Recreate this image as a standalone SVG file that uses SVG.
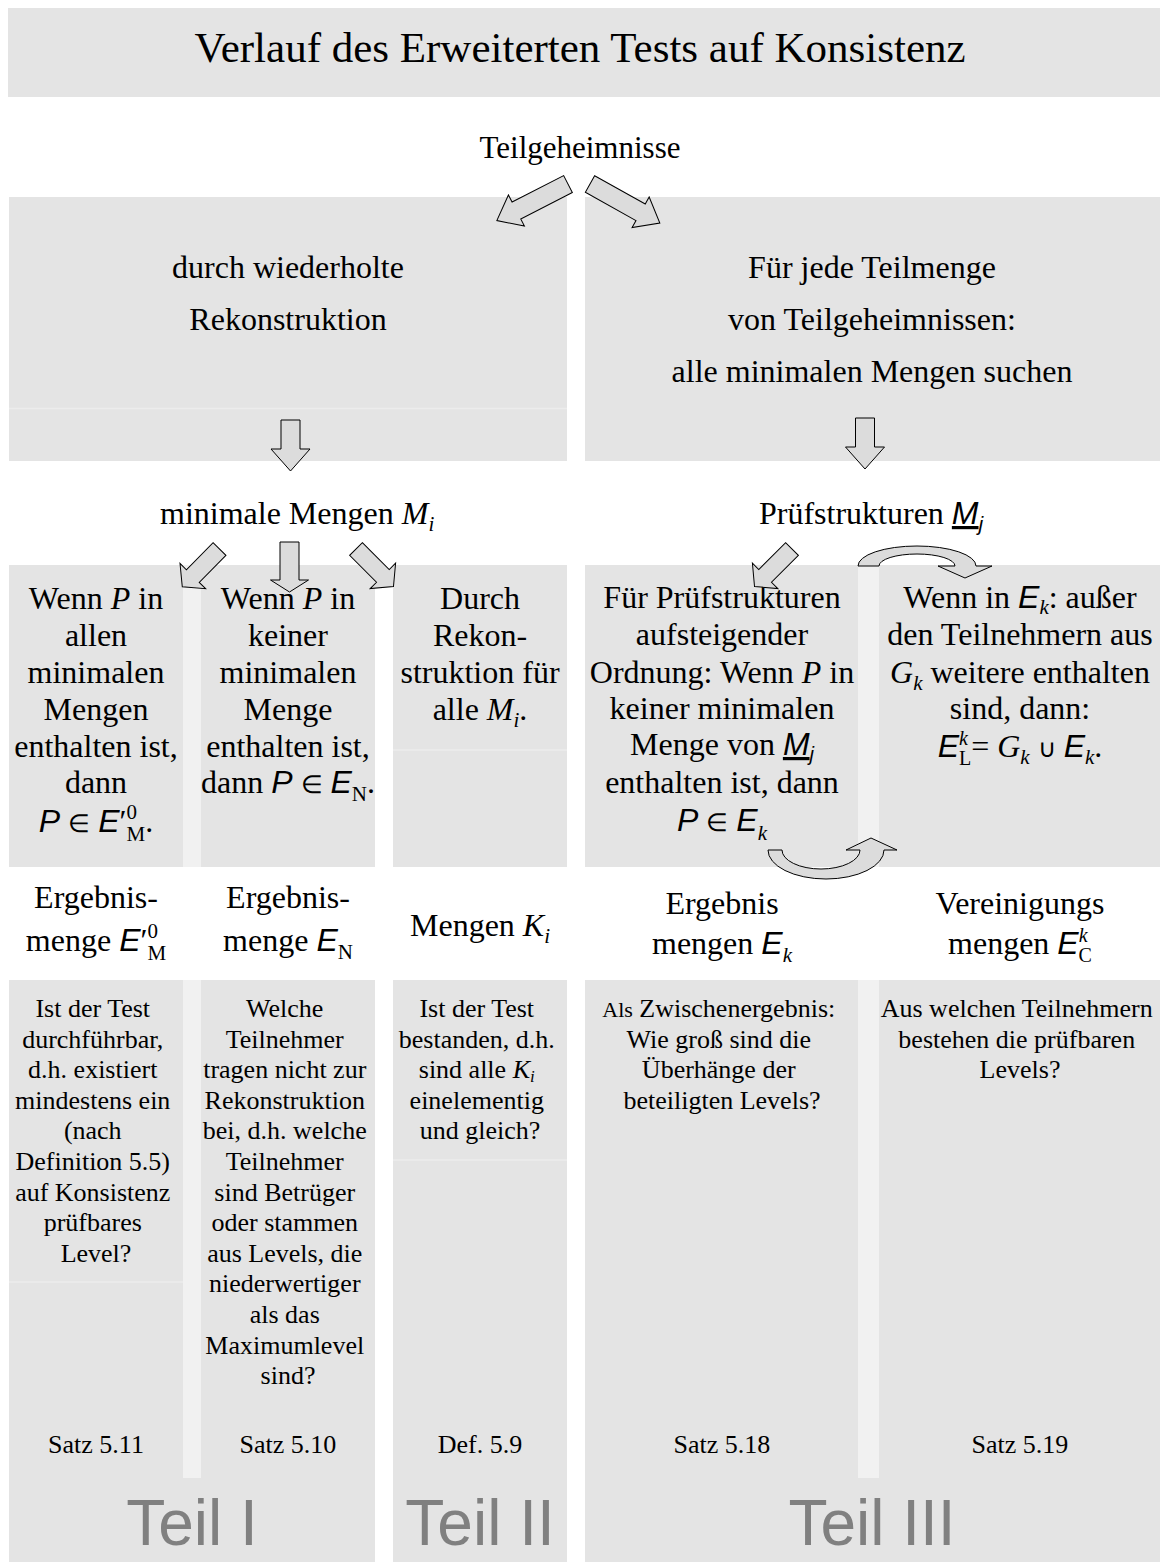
<svg xmlns="http://www.w3.org/2000/svg" width="1160" height="1562" viewBox="0 0 1160 1562">
<style>
  .box{fill:#e4e4e4}
  .strip{fill:#f1f1f1}
  .seam{stroke:#ececec;stroke-width:1.5;fill:none}
  text{font-family:"Liberation Serif","Times New Roman",serif;fill:#000}
  .c{text-anchor:middle}
  .f32{font-size:32px}
  .f26{font-size:26px}
  .i{font-style:italic}
  .si{font-family:"Liberation Sans",Arial,sans-serif;font-style:italic}
  .op{font-size:25px}
  .teil{font-family:"Liberation Sans",Arial,sans-serif;font-size:64px;fill:#808080;text-anchor:middle}
  .arr{fill:#dcdcdc;stroke:#000;stroke-width:1}
</style>
<defs>
  <!-- block arrows, drawn pointing along +x (or +y for the vertical ones), tail at origin -->
  <path id="bigArrow" d="M0,-9.5 H58 V-17.5 L80,0 L58,17.5 V9.5 H0 Z"/>
  <path id="smallArrow" d="M0,-9 H38 V-18 L53,0 L38,18 V9 H0 Z"/>
  <path id="downBig" d="M-9.5,0 V29 H-19.5 L0,51 L19.5,29 H9.5 V0 Z"/>
  <path id="downSmall" d="M-9.5,0 V38 H-19 L0,50 L19,38 H9.5 V0 Z"/>
</defs>

<rect width="1160" height="1562" fill="#fff"/>

<!-- title banner -->
<g id="title">
  <rect class="box" x="8" y="8" width="1152" height="89"/>
  <text class="c" x="580" y="62" font-size="43">Verlauf des Erweiterten Tests auf Konsistenz</text>
</g>

<g id="teilgeheimnisse">
  <text class="c" x="580" y="158" font-size="31">Teilgeheimnisse</text>
</g>

<!-- upper process boxes -->
<g id="rekonstruktion">
  <rect class="box" x="9" y="197" width="558" height="264"/>
  <line class="seam" x1="9" y1="408.5" x2="567" y2="408.5"/>
  <text class="c f32" x="288" y="278">durch wiederholte</text>
  <text class="c f32" x="288" y="330">Rekonstruktion</text>
</g>

<g id="teilmengen">
  <rect class="box" x="585" y="197" width="575" height="264"/>
  <text class="c f32" x="872" y="278">Für jede Teilmenge</text>
  <text class="c f32" x="872" y="330">von Teilgeheimnissen:</text>
  <text class="c f32" x="872" y="382">alle minimalen Mengen suchen</text>
</g>

<g id="minimale-mengen">
  <text class="f32" x="160" y="524">minimale Mengen <tspan class="i">M</tspan><tspan class="i" font-size="21" dy="7">i</tspan></text>
</g>

<g id="pruefstrukturen">
  <text class="f32" x="759" y="524">Prüfstrukturen <tspan class="si" text-decoration="underline">M</tspan><tspan class="si" font-size="21" dy="7">j</tspan></text>
</g>

<!-- middle row: rules -->
<g id="regel-alle">
  <rect class="box" x="9" y="565" width="174" height="302"/>
  <rect class="strip" x="183" y="565" width="18" height="302"/>
  <text class="c f32" x="96" y="609">Wenn <tspan class="i">P</tspan> in</text>
  <text class="c f32" x="96" y="646">allen</text>
  <text class="c f32" x="96" y="683">minimalen</text>
  <text class="c f32" x="96" y="720">Mengen</text>
  <text class="c f32" x="96" y="757">enthalten ist,</text>
  <text class="c f32" x="96" y="793">dann</text>
  <text class="c f32" x="96" y="832"><tspan class="si">P</tspan> <tspan class="op">∈</tspan>  <tspan class="si">E</tspan>′<tspan font-size="21" dy="-13">0</tspan><tspan font-size="21" dx="-10.5" dy="22">M</tspan><tspan dy="-9">.</tspan></text>
</g>

<g id="regel-keine">
  <rect class="box" x="201" y="565" width="174" height="302"/>
  <text class="c f32" x="288" y="609">Wenn <tspan class="i">P</tspan> in</text>
  <text class="c f32" x="288" y="646">keiner</text>
  <text class="c f32" x="288" y="683">minimalen</text>
  <text class="c f32" x="288" y="720">Menge</text>
  <text class="c f32" x="288" y="757">enthalten ist,</text>
  <text class="c f32" x="288" y="793">dann <tspan class="si">P</tspan> <tspan class="op">∈</tspan>  <tspan class="si">E</tspan><tspan font-size="21" dy="8">N</tspan><tspan dy="-8">.</tspan></text>
</g>

<g id="regel-rekonstruktion">
  <rect class="box" x="393" y="565" width="174" height="302"/>
  <line class="seam" x1="393" y1="750" x2="567" y2="750"/>
  <text class="c f32" x="480" y="609">Durch</text>
  <text class="c f32" x="480" y="646">Rekon-</text>
  <text class="c f32" x="480" y="683">struktion für</text>
  <text class="c f32" x="480" y="720">alle <tspan class="i">M</tspan><tspan class="i" font-size="21" dy="7">i</tspan><tspan dy="-7">.</tspan></text>
</g>

<g id="regel-pruefstrukturen">
  <rect class="box" x="585" y="565" width="273" height="302"/>
  <rect class="strip" x="858" y="565" width="21" height="302"/>
  <text class="c f32" x="722" y="608">Für Prüfstrukturen</text>
  <text class="c f32" x="722" y="645">aufsteigender</text>
  <text class="c f32" x="722" y="683">Ordnung: Wenn <tspan class="i">P</tspan> in</text>
  <text class="c f32" x="722" y="719">keiner minimalen</text>
  <text class="c f32" x="722" y="755">Menge von <tspan class="si" text-decoration="underline">M</tspan><tspan class="si" font-size="20" dy="6">j</tspan></text>
  <text class="c f32" x="722" y="793">enthalten ist, dann</text>
  <text class="c f32" x="722" y="831"><tspan class="si">P</tspan> <tspan class="op">∈</tspan>  <tspan class="si">E</tspan><tspan class="i" font-size="21" dy="9">k</tspan></text>
</g>

<g id="regel-vereinigung">
  <rect class="box" x="879" y="565" width="281" height="302"/>
  <text class="c f32" x="1020" y="608">Wenn in <tspan class="si">E</tspan><tspan class="i" font-size="21" dy="6">k</tspan><tspan dy="-6">: außer</tspan></text>
  <text class="c f32" x="1020" y="645">den Teilnehmern aus</text>
  <text class="c f32" x="1020" y="683"><tspan class="i">G</tspan><tspan class="i" font-size="21" dy="7">k</tspan><tspan dy="-7"> weitere enthalten</tspan></text>
  <text class="c f32" x="1020" y="719">sind, dann:</text>
  <text class="c f32" x="1020" y="757"><tspan class="si">E</tspan><tspan class="i" font-size="20" dy="-12">k</tspan><tspan font-size="20" dx="-9" dy="20">L</tspan><tspan dy="-8">= </tspan><tspan class="i">G</tspan><tspan class="i" font-size="21" dy="7">k</tspan><tspan dy="-7"> </tspan><tspan class="op">∪</tspan><tspan> </tspan><tspan class="si">E</tspan><tspan class="i" font-size="21" dy="7">k</tspan><tspan dy="-7">.</tspan></text>
</g>

<!-- result labels -->
<g id="ergebnis-em">
  <text class="c f32" x="96" y="908">Ergebnis-</text>
  <text class="c f32" x="96" y="951">menge <tspan class="si">E</tspan>′<tspan font-size="21" dy="-13">0</tspan><tspan font-size="21" dx="-10.5" dy="22">M</tspan></text>
</g>
<g id="ergebnis-en">
  <text class="c f32" x="288" y="908">Ergebnis-</text>
  <text class="c f32" x="288" y="951">menge <tspan class="si">E</tspan><tspan font-size="21" dy="8">N</tspan></text>
</g>
<g id="mengen-ki">
  <text class="c f32" x="480" y="936">Mengen <tspan class="i">K</tspan><tspan class="i" font-size="21" dy="7">i</tspan></text>
</g>
<g id="ergebnis-ek">
  <text class="c f32" x="722" y="914">Ergebnis</text>
  <text class="c f32" x="722" y="954">mengen <tspan class="si">E</tspan><tspan class="i" font-size="21" dy="8">k</tspan></text>
</g>
<g id="vereinigung-ec">
  <text class="c f32" x="1020" y="914">Vereinigungs</text>
  <text class="c f32" x="1020" y="954">mengen <tspan class="si">E</tspan><tspan class="i" font-size="20" dy="-12">k</tspan><tspan font-size="20" dx="-9" dy="20">C</tspan></text>
</g>

<!-- bottom row: questions, references and parts -->
<g id="frage-durchfuehrbar">
  <rect class="box" x="9" y="980" width="366" height="582"/>
  <rect class="strip" x="183" y="980" width="18" height="498"/>
  <line class="seam" x1="9" y1="1282" x2="183" y2="1282"/>
  <text class="c f26" x="96" y="1017">
    <tspan x="96">Ist der Test</tspan>
    <tspan x="96" dy="30.6">durchführbar,</tspan>
    <tspan x="96" dy="30.6">d.h. existiert</tspan>
    <tspan x="96" dy="30.6">mindestens ein</tspan>
    <tspan x="96" dy="30.6">(nach</tspan>
    <tspan x="96" dy="30.6">Definition 5.5)</tspan>
    <tspan x="96" dy="30.6">auf Konsistenz</tspan>
    <tspan x="96" dy="30.6">prüfbares</tspan>
    <tspan x="96" dy="30.6">Level?</tspan>
  </text>
  <text class="c f26" x="96" y="1453">Satz 5.11</text>
</g>

<g id="frage-teilnehmer">
  <text class="c f26" x="288" y="1017">
    <tspan x="288">Welche</tspan>
    <tspan x="288" dy="30.6">Teilnehmer</tspan>
    <tspan x="288" dy="30.6">tragen nicht zur</tspan>
    <tspan x="288" dy="30.6">Rekonstruktion</tspan>
    <tspan x="288" dy="30.6">bei, d.h. welche</tspan>
    <tspan x="288" dy="30.6">Teilnehmer</tspan>
    <tspan x="288" dy="30.6">sind Betrüger</tspan>
    <tspan x="288" dy="30.6">oder stammen</tspan>
    <tspan x="288" dy="30.6">aus Levels, die</tspan>
    <tspan x="288" dy="30.6">niederwertiger</tspan>
    <tspan x="288" dy="30.6">als das</tspan>
    <tspan x="288" dy="30.6">Maximumlevel</tspan>
    <tspan x="288" dy="30.6">sind?</tspan>
  </text>
  <text class="c f26" x="288" y="1453">Satz 5.10</text>
  <text class="teil" x="192" y="1545">Teil I</text>
</g>

<g id="frage-bestanden">
  <rect class="box" x="393" y="980" width="174" height="582"/>
  <line class="seam" x1="393" y1="1160" x2="567" y2="1160"/>
  <text class="c f26" x="480" y="1017">
    <tspan x="480">Ist der Test</tspan>
    <tspan x="480" dy="30.6">bestanden, d.h.</tspan>
    <tspan x="480" dy="30.6">sind alle <tspan class="i">K</tspan><tspan class="i" font-size="17" dy="4">i</tspan></tspan>
    <tspan x="480" dy="26.6">einelementig</tspan>
    <tspan x="480" dy="30.6">und gleich?</tspan>
  </text>
  <text class="c f26" x="480" y="1453">Def. 5.9</text>
  <text class="teil" x="480" y="1545">Teil II</text>
</g>

<g id="frage-ueberhaenge">
  <rect class="box" x="585" y="980" width="575" height="582"/>
  <rect class="strip" x="858" y="980" width="21" height="498"/>
  <text class="c f26" x="722" y="1017">
    <tspan x="722"><tspan font-size="22">Als</tspan> Zwischenergebnis:</tspan>
    <tspan x="722" dy="30.6">Wie groß sind die</tspan>
    <tspan x="722" dy="30.6">Überhänge der</tspan>
    <tspan x="722" dy="30.6">beteiligten Levels?</tspan>
  </text>
  <text class="c f26" x="722" y="1453">Satz 5.18</text>
</g>

<g id="frage-pruefbare-levels">
  <text class="c f26" x="1020" y="1017">
    <tspan x="1020">Aus welchen Teilnehmern</tspan>
    <tspan x="1020" dy="30.6">bestehen die prüfbaren</tspan>
    <tspan x="1020" dy="30.6">Levels?</tspan>
  </text>
  <text class="c f26" x="1020" y="1453">Satz 5.19</text>
  <text class="teil" x="872" y="1545">Teil III</text>
</g>

<!-- connectors -->
<g id="connectors" class="arr">
  <use href="#bigArrow" transform="translate(568,184) rotate(152.8)"/>
  <use href="#bigArrow" transform="translate(590,184) rotate(29.2)"/>
  <use href="#downBig" transform="translate(290.5,420)"/>
  <use href="#downBig" transform="translate(865,418)"/>
  <use href="#smallArrow" transform="translate(219.5,549) rotate(134.6)"/>
  <use href="#downSmall" transform="translate(289.5,542)"/>
  <use href="#smallArrow" transform="translate(356,549) rotate(45)"/>
  <use href="#smallArrow" transform="translate(792,549) rotate(135)"/>
  <path d="M858,566 A59,20 0 0 1 976,566 L992,566 L965,578 L938,566 L955,566 A38,12 0 0 0 879,566 Z"/>
  <path d="M768,850 A58,29 0 0 0 884,850 L897,850 L871,838 L846,850 L860,850 A39,19 0 0 1 782,850 Z"/>
</g>
</svg>
